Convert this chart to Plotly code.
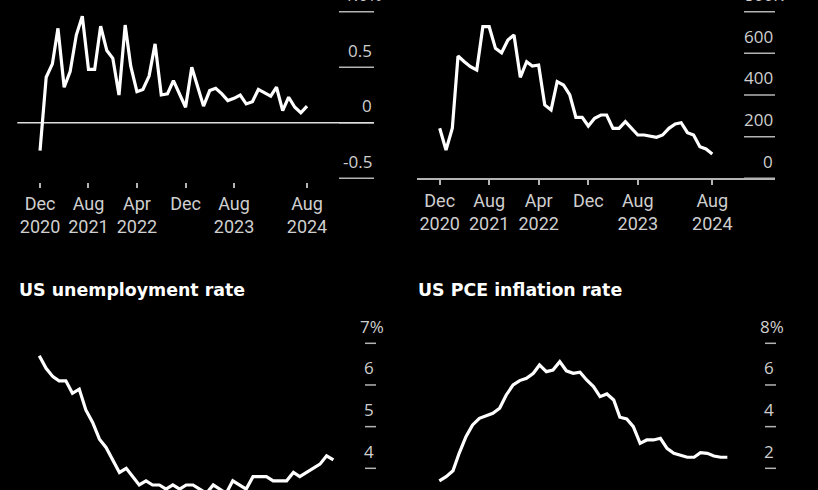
import pandas as pd
import plotly.graph_objects as go

# ---------------- data ----------------
months = pd.date_range("2020-12-01", "2024-08-01", freq="MS")      # Dec 2020 .. Aug 2024
months_pce = pd.date_range("2020-12-01", "2024-07-01", freq="MS")  # Dec 2020 .. Jul 2024

top_left_values = [
    -0.25, 0.41, 0.53, 0.85, 0.32, 0.46, 0.79, 0.96, 0.48, 0.48, 0.87, 0.65,
    0.58, 0.25, 0.88, 0.51, 0.28, 0.30, 0.42, 0.71, 0.25, 0.26, 0.38, 0.26,
    0.14, 0.50, 0.31, 0.15, 0.29, 0.31, 0.26, 0.20, 0.22, 0.25, 0.17, 0.19,
    0.30, 0.27, 0.24, 0.32, 0.11, 0.23, 0.14, 0.09, 0.15,
]
top_right_values = [
    240, 136, 240, 587, 560, 536, 520, 728, 728, 624, 603, 664,
    688, 485, 560, 539, 544, 352, 328, 464, 448, 400, 293, 293,
    251, 288, 304, 304, 240, 240, 272, 240, 208, 208, 203, 197,
    208, 240, 261, 267, 219, 208, 152, 141, 117,
]
unemployment_rate = [
    6.7, 6.4, 6.2, 6.1, 6.1, 5.8, 5.9, 5.4, 5.1, 4.7, 4.5, 4.2,
    3.9, 4.0, 3.8, 3.6, 3.7, 3.6, 3.6, 3.5, 3.6, 3.5, 3.6, 3.6,
    3.5, 3.4, 3.6, 3.5, 3.4, 3.7, 3.6, 3.5, 3.8, 3.8, 3.8, 3.7,
    3.7, 3.7, 3.9, 3.8, 3.9, 4.0, 4.1, 4.3, 4.2,
]
pce_inflation = [
    1.40, 1.60, 1.88, 2.72, 3.52, 4.08, 4.40, 4.51, 4.64, 4.88, 5.52, 6.00,
    6.21, 6.32, 6.56, 6.96, 6.64, 6.72, 7.12, 6.68, 6.56, 6.61, 6.24, 5.92,
    5.44, 5.57, 5.28, 4.45, 4.37, 4.00, 3.20, 3.36, 3.36, 3.44, 2.96, 2.72,
    2.64, 2.53, 2.53, 2.75, 2.72, 2.59, 2.53, 2.53,
]

x_tick_dates = ["2020-12-01", "2021-08-01", "2022-04-01", "2022-12-01", "2023-08-01", "2024-08-01"]
x_tick_text = ["Dec<br>2020", "Aug<br>2021", "Apr<br>2022", "Dec", "Aug<br>2023", "Aug<br>2024"]

tl_ticks = [-0.5, 0, 0.5, 1.0]
tl_labels = ["-0.5", "0", "0.5", "1.0%"]
tr_ticks = [0, 200, 400, 600, 800]
tr_labels = ["0", "200", "400", "600", "800K"]
bl_ticks = [3, 4, 5, 6, 7]
bl_labels = ["3", "4", "5", "6", "7%"]
br_ticks = [0, 2, 4, 6, 8]
br_labels = ["0", "2", "4", "6", "8%"]

title_unemployment = "US unemployment rate"
title_pce = "US PCE inflation rate"

# ---------------- styling ----------------
W, H = 818, 490
BG = "#000000"
LINE = "#ffffff"
DASH = "#b4b4b4"
LABEL = "#cfcfcf"
FONT = "Roboto"
LABEL_FONT = "Open Sans"
TITLE_FONT = "DejaVu Sans"
TICK_SIZE = 18


def px_x(p):
    return p / W


def px_y(p):
    return 1 - p / H


fig = go.Figure()
for xs, ys, xa, ya in [(months, top_left_values, "x", "y"),
                       (months, top_right_values, "x2", "y2"),
                       (months, unemployment_rate, "x3", "y3"),
                       (months_pce, pce_inflation, "x4", "y4")]:
    fig.add_trace(go.Scatter(x=xs, y=ys, mode="lines",
                             line=dict(color=LINE, width=3.2),
                             xaxis=xa, yaxis=ya, hoverinfo="skip"))

# vertical layout (pixels from top) with the value scales of the reference
TL_PX = (8, 182)           # -0.5 at 178.3, 1.0 at 11.7
TL_K = (178.3 - 11.7) / 1.5
TL_RANGE = [-0.5 - (TL_PX[1] - 178.3) / TL_K, 1.0 + (11.7 - TL_PX[0]) / TL_K]
TR_PX = (8, 178.3)         # 0 at 178.3, 800 at 11.7
TR_K = (178.3 - 11.7) / 800
TR_RANGE = [0, 800 + (11.7 - TR_PX[0]) / TR_K]
B_PX = (338, 490)          # top value at 343.3, 1 step = 41.67 px
B_K = 41.67
BL_RANGE = [7 - (490 - 343.3) / B_K, 7 + (343.3 - B_PX[0]) / B_K]
BR_RANGE = [8 - 2 * (490 - 343.3) / B_K, 8 + 2 * (343.3 - B_PX[0]) / B_K]

common_x = dict(type="date", tickvals=x_tick_dates, ticktext=x_tick_text,
                ticks="outside", ticklen=5, tickwidth=1.5, tickcolor=DASH,
                showgrid=False, zeroline=False, fixedrange=True,
                tickfont=dict(family=FONT, size=TICK_SIZE, color=LABEL))


def y_axis(px, rng, anchor):
    return dict(domain=[px_y(px[1]), px_y(px[0])], range=rng, anchor=anchor,
                side="right", visible=False, fixedrange=True)


TL_X = (17.3, 374)
TR_X = (417.3, 775)
BL_X = (17.3, 376)
BR_X = (417.3, 776)

fig.update_layout(
    width=W, height=H,
    margin=dict(l=0, r=0, t=0, b=0),
    paper_bgcolor=BG, plot_bgcolor=BG,
    showlegend=False,
    xaxis=dict(domain=[px_x(TL_X[0]), px_x(TL_X[1])], range=["2020-08-09", "2025-07-03"],
               anchor="y", showline=False, **common_x),
    yaxis=y_axis(TL_PX, TL_RANGE, "x"),
    xaxis2=dict(domain=[px_x(TR_X[0]), px_x(TR_X[1])], range=["2020-08-13", "2025-06-05"],
                anchor="y2", showline=True, linecolor=DASH, linewidth=1.5, **common_x),
    yaxis2=y_axis(TR_PX, TR_RANGE, "x2"),
    xaxis3=dict(domain=[px_x(BL_X[0]), px_x(BL_X[1])], range=["2020-08-23", "2025-02-11"],
                anchor="y3", type="date", visible=False, fixedrange=True),
    yaxis3=y_axis(B_PX, BL_RANGE, "x3"),
    xaxis4=dict(domain=[px_x(BR_X[0]), px_x(BR_X[1])], range=["2020-08-23", "2025-02-07"],
                anchor="y4", type="date", visible=False, fixedrange=True),
    yaxis4=y_axis(B_PX, BR_RANGE, "x4"),
)

shapes = []
annotations = []


def add_scale(xid, yid, xpx, vals, labels, dash_len, suffix_shift):
    width = xpx[1] - xpx[0]
    for v, t in zip(vals, labels):
        shapes.append(dict(type="line", xref=f"{xid} domain", yref=yid,
                           x0=1 - dash_len / width, x1=1, y0=v, y1=v,
                           line=dict(color=DASH, width=1.5), layer="below"))
        shift = suffix_shift if not t.replace(".", "").replace("-", "").isdigit() else 0
        annotations.append(dict(
            x=1, xref=f"{xid} domain", y=v, yref=yid, text=t, showarrow=False,
            xanchor="right", yanchor="middle", yshift=17, xshift=shift,
            font=dict(family=LABEL_FONT, size=TICK_SIZE - 1, color=LABEL)))


add_scale("x", "y", TL_X, tl_ticks, tl_labels, 35, 10)
add_scale("x2", "y2", TR_X, tr_ticks, tr_labels, 31, 11)
add_scale("x3", "y3", BL_X, bl_ticks, bl_labels, 11, 10)
add_scale("x4", "y4", BR_X, br_ticks, br_labels, 11, 10)

# zero line across the whole top-left panel
shapes.append(dict(type="line", xref="x domain", yref="y", x0=0, x1=1, y0=0, y1=0,
                   line=dict(color="#dedede", width=1.5), layer="below"))

annotations.append(dict(x=px_x(17), xref="paper", y=px_y(290), yref="paper",
                        text="<b>" + title_unemployment + "</b>", showarrow=False,
                        xanchor="left", yanchor="middle",
                        font=dict(family=TITLE_FONT, size=17.4, color="#ffffff")))
annotations.append(dict(x=px_x(416), xref="paper", y=px_y(290), yref="paper",
                        text="<b>" + title_pce + "</b>", showarrow=False,
                        xanchor="left", yanchor="middle",
                        font=dict(family=TITLE_FONT, size=17.4, color="#ffffff")))
fig.update_layout(shapes=shapes, annotations=annotations)

fig.write_html("out.html", config={"displayModeBar": False},
               post_script="document.body.style.margin='0';document.body.style.overflow='hidden';")
